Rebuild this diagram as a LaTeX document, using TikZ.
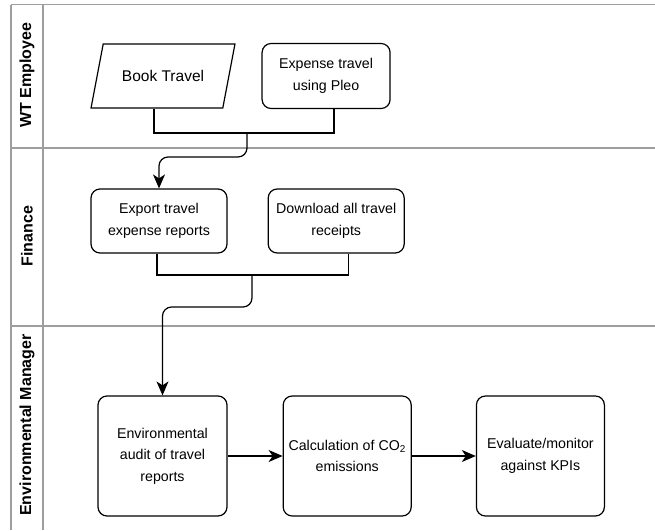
\documentclass[tikz,border=0pt]{standalone}
\usepackage{fontspec}
\setmainfont{Liberation Sans}
\usepackage{tikz}
\usetikzlibrary{shapes.geometric,arrows.meta,positioning}

\begin{document}
\begin{tikzpicture}[
  x=1pt, y=1pt,
  lane/.style={draw=black!38, line width=1.2pt},
  lanetitle/.style={rotate=90, font=\fontsize{16}{19}\selectfont\bfseries},
  box/.style={rectangle, draw, rounded corners=9pt, line width=1.2pt, align=center, minimum width=128pt, minimum height=64pt, font=\fontsize{14.2}{21.5}\selectfont},
  io/.style={trapezium, trapezium left angle=63.4, trapezium right angle=116.6, trapezium stretches=true, draw, line width=1.2pt, minimum width=144pt, minimum height=64pt, font=\fontsize{15.5}{18}\selectfont},
  line/.style={line width=1.2pt},
  arr/.style={-{Stealth[length=14pt,width=12pt,inset=4pt]}, line width=1.2pt, rounded corners=9pt}
]
\useasboundingbox (0,0) rectangle (655,-530);
% swimlanes
\draw[lane] (11,-4.5) -- (655,-4.5);
\draw[lane] (11,-4.5) -- (11,-530);
\draw[lane] (43,-4.5) -- (43,-530);
\foreach \y in {148,326}
  \draw[lane] (11,-\y) -- (655,-\y);
\node[lanetitle] (lemp) at (27,-75) {WT Employee};
\node[lanetitle] (lfin) at (27,-236) {Finance};
\node[lanetitle] (lenv) at (27,-425) {Environmental Manager};

% WT Employee
\node[io] (book) at (163,-76) {Book Travel};
\node[box, minimum height=65pt, right=32pt of book] (expense) {Expense travel\\using Pleo};
% Finance
\node[box, minimum width=136pt] (export) at (159,-221) {Export travel\\expense reports};
\node[box, minimum width=136pt, right=40pt of export] (download) {Download all travel\\receipts};
% Environmental Manager
\node[box, minimum width=129pt, minimum height=120pt] (audit) at (162.5,-456) {Environmental\\audit of travel\\reports};
\node[box, minimum height=120pt, right=55pt of audit] (calc) {Calculation of CO\textsubscript{2}\\emissions};
\node[box, minimum height=120pt, right=64pt of calc] (eval) {Evaluate/monitor\\against KPIs};

\coordinate (j1) at (247,-133);
\coordinate (j2) at (252,-275);
\draw[line] ([xshift=-9pt]book.south) |- (j1) -| ([xshift=8pt]expense.south);
\draw[arr] (j1) -- ++(0,-24) -| (export.north);
\draw[line] ([xshift=-2pt]export.south) |- (j2) -| ([xshift=12pt]download.south);
\draw[arr] (j2) -- ++(0,-32) -| (audit.north);
\draw[arr] (audit) -- (calc);
\draw[arr] (calc) -- (eval);
\end{tikzpicture}
\end{document}
